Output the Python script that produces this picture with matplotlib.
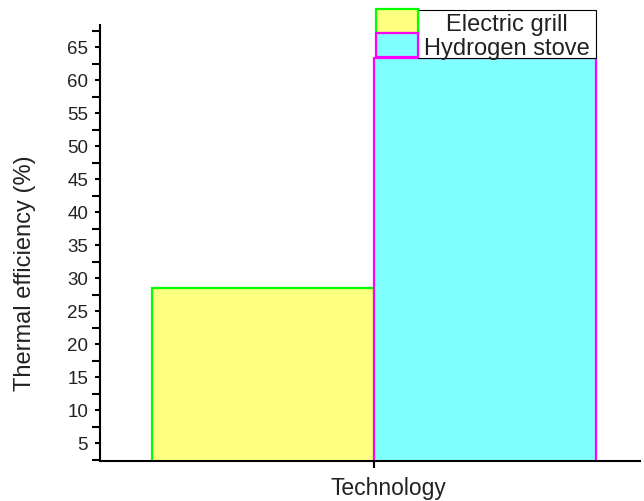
import matplotlib.pyplot as plt
from matplotlib.patches import Rectangle
from matplotlib.ticker import MultipleLocator

plt.rcParams['font.family'] = ['Liberation Sans', 'DejaVu Sans']

technologies = ['Electric grill', 'Hydrogen stove']
efficiency = [28.6, 63.4]
positions = [-0.5, 0.5]
face_colors = ['#ffff80', '#80ffff']
edge_colors = ['#00ff00', '#ff00ff']

fig = plt.figure(figsize=(6.44, 5.01), dpi=100)
ax = fig.add_axes([100 / 644, 40 / 501, 540 / 644, 436 / 501])

bars = []
for pos, val, fc, ec, name in zip(positions, efficiency, face_colors, edge_colors, technologies):
    b = ax.bar(pos, val, width=1.0, color=fc, edgecolor=ec, linewidth=1.6, label=name)
    bars.append(b)

ax.set_xlim(-1.234, 1.198)
ax.set_ylim(2.3, 68.4)

ax.spines['top'].set_visible(False)
ax.spines['right'].set_visible(False)
ax.spines['left'].set_linewidth(1.5)
ax.spines['bottom'].set_linewidth(1.5)

ax.set_xticks([0])
ax.set_xticklabels([''])
ax.tick_params(axis='x', length=5, width=1.5, direction='out')

ax.yaxis.set_major_locator(MultipleLocator(5))
ax.yaxis.set_minor_locator(MultipleLocator(2.5))
ax.set_yticks(range(5, 70, 5))
ax.tick_params(axis='y', which='major', length=3.6, width=1.5, labelsize=13.5, pad=5,
               labelcolor='#222222')
ax.tick_params(axis='y', which='minor', length=5.8, width=1.5)

ax.set_xlabel('Technology', fontsize=16.5, color='#222222')
ax.xaxis.set_label_coords(0.535, -0.037)
ax.set_ylabel('Thermal efficiency (%)', fontsize=17, color='#222222')
ax.yaxis.set_label_coords(-0.118, 0.431)

# legend drawn by hand: handle boxes sit outside the framed text area
handle_y = [0.982, 0.927]
text_y = [0.999, 0.944]
for b, hy, ty, name in zip(bars, handle_y, text_y, technologies):
    p = b.patches[0]
    ax.add_patch(Rectangle((0.511, hy), 0.078, 0.055, transform=ax.transAxes,
                           facecolor=p.get_facecolor(), edgecolor=p.get_edgecolor(),
                           linewidth=1.6, clip_on=False, zorder=6))
    ax.text(0.754, ty, name, transform=ax.transAxes, ha='center', va='center',
            fontsize=17, color='#222222', zorder=7)
ax.add_patch(Rectangle((0.589, 0.924), 0.33, 0.11, transform=ax.transAxes,
                       facecolor='white', edgecolor='black', linewidth=0.8,
                       clip_on=False, zorder=5))

plt.savefig('out.png', dpi=100)
